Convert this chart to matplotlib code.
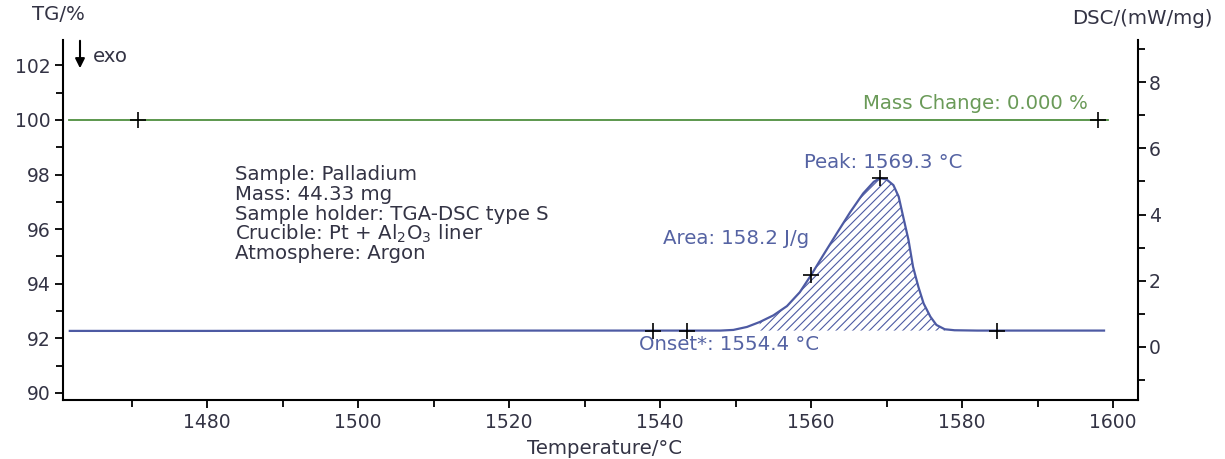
import matplotlib
matplotlib.use("Agg")
import matplotlib.pyplot as plt
from matplotlib.ticker import MultipleLocator
import numpy as np

# ---- data ----
tg_temp = [1461.7, 1599.3]
tg_vals = [100.0, 100.0]
tg_marks_t = [1470.9, 1598.0]
tg_marks_v = [100.0, 100.0]

dsc_temp = [1461.8, 1480, 1500, 1520, 1540, 1548, 1549.7, 1551.5, 1553.2, 1555.0,
            1556.8, 1558.5, 1560.0, 1561.6, 1563.4, 1565.2, 1566.9, 1568.3, 1569.1,
            1570.0, 1570.9, 1571.6, 1572.2, 1572.9, 1573.5, 1574.2, 1574.9, 1575.8,
            1576.6, 1577.7, 1579.0, 1582, 1590, 1598.8]
dsc_vals = [0.48, 0.48, 0.485, 0.49, 0.49, 0.49, 0.51, 0.60, 0.75, 0.95,
            1.23, 1.65, 2.17, 2.77, 3.43, 4.08, 4.64, 4.99, 5.10,
            5.06, 4.89, 4.54, 3.93, 3.23, 2.42, 1.82, 1.31, 0.91,
            0.66, 0.53, 0.50, 0.49, 0.49, 0.49]
dsc_baseline = 0.49
dsc_marks_t = [1539.0, 1543.5, 1560.0, 1569.1, 1584.6]
dsc_marks_v = [0.49, 0.49, 2.17, 5.10, 0.49]
area_range = (1552.5, 1578.6)

info_lines = ["Sample: Palladium", "Mass: 44.33 mg", "Sample holder: TGA-DSC type S",
              "Crucible: Pt + Al$_2$O$_3$ liner", "Atmosphere: Argon"]

GREEN = "#4f8f3f"
BLUE = "#4d5aa3"
GREEN_TXT = "#6a9a58"
BLUE_TXT = "#5563a3"
TXT = "#333344"
FS = 14.2

plt.rcParams['font.family'] = ['DejaVu Sans']
plt.rcParams['hatch.linewidth'] = 0.8
plt.rcParams['mathtext.default'] = 'regular'

fig = plt.figure(figsize=(12.25, 4.59), dpi=100)
ax = fig.add_axes([63/1225, 59/459, (1138-63)/1225, 360/459])
ax2 = ax.twinx()

ax.set_xlim(1460.9, 1603.3)
ax.set_ylim(89.74, 102.93)
ax2.set_ylim(-1.61, 9.28)

ax.plot(tg_temp, tg_vals, color=GREEN, lw=1.3, zorder=3)
ax.plot(tg_marks_t, tg_marks_v, ls='none', marker='+', ms=12, mew=1.2, color='black', zorder=5)

t = np.array(dsc_temp)
v = np.array(dsc_vals)
ax2.plot(t, v, color=BLUE, lw=1.6, zorder=3)
mask = (t >= area_range[0]) & (t <= area_range[1])
ax2.fill_between(t[mask], dsc_baseline, v[mask], facecolor='none', edgecolor=BLUE,
                 hatch='////', linewidth=0, zorder=2)
ax2.plot(dsc_marks_t, dsc_marks_v, ls='none', marker='+', ms=12, mew=1.2, color='black', zorder=5)

# spines & ticks
for a in (ax, ax2):
    a.spines['top'].set_visible(False)
    for s in ('left', 'right', 'bottom'):
        a.spines[s].set_linewidth(1.5)
ax.spines['right'].set_visible(False)
ax2.spines['left'].set_visible(False)
ax2.spines['bottom'].set_visible(False)

ax.xaxis.set_major_locator(MultipleLocator(20))
ax.xaxis.set_minor_locator(MultipleLocator(10))
ax.yaxis.set_major_locator(MultipleLocator(2))
ax.yaxis.set_minor_locator(MultipleLocator(1))
ax2.yaxis.set_major_locator(MultipleLocator(2))
ax2.yaxis.set_minor_locator(MultipleLocator(1))

for a in (ax, ax2):
    a.tick_params(which='major', direction='out', length=6, width=1.3, labelsize=13.5,
                  labelcolor=TXT, pad=3)
    a.tick_params(which='minor', direction='out', length=5, width=1.3)
ax2.tick_params(axis='y', which='major', pad=2)

ax.set_xticks([1480, 1500, 1520, 1540, 1560, 1580, 1600])

def ftext(x, y, s, **kw):
    kw.setdefault('fontsize', FS)
    kw.setdefault('color', TXT)
    kw.setdefault('va', 'center')
    fig.text(x/1225, 1 - y/459, s, **kw)

# axis titles
ftext(32, 14, "TG/%", ha='left')
ftext(1213, 18, "DSC/(mW/mg)", ha='right')
ftext(605, 448, "Temperature/°C", ha='center')

# exo arrow
ax.annotate("", xy=(80/1225, 1 - 71/459), xytext=(80/1225, 1 - 38/459),
            xycoords='figure fraction', textcoords='figure fraction',
            arrowprops=dict(arrowstyle='-|>', color='black', lw=1.5, mutation_scale=14))
ftext(93, 56, "exo", ha='left')

# info block
for i, line in enumerate(info_lines):
    ftext(235, 175 + 19.7 * i, line, ha='left')

# annotations
ftext(1088, 104, "Mass Change: 0.000 %", color=GREEN_TXT, ha='right')
ftext(804, 163, "Peak: 1569.3 °C", color=BLUE_TXT, ha='left')
ftext(663, 239, "Area: 158.2 J/g", color=BLUE_TXT, ha='left')
ftext(639, 344, "Onset*: 1554.4 °C", color=BLUE_TXT, ha='left')

fig.savefig("out.png", dpi=100)
